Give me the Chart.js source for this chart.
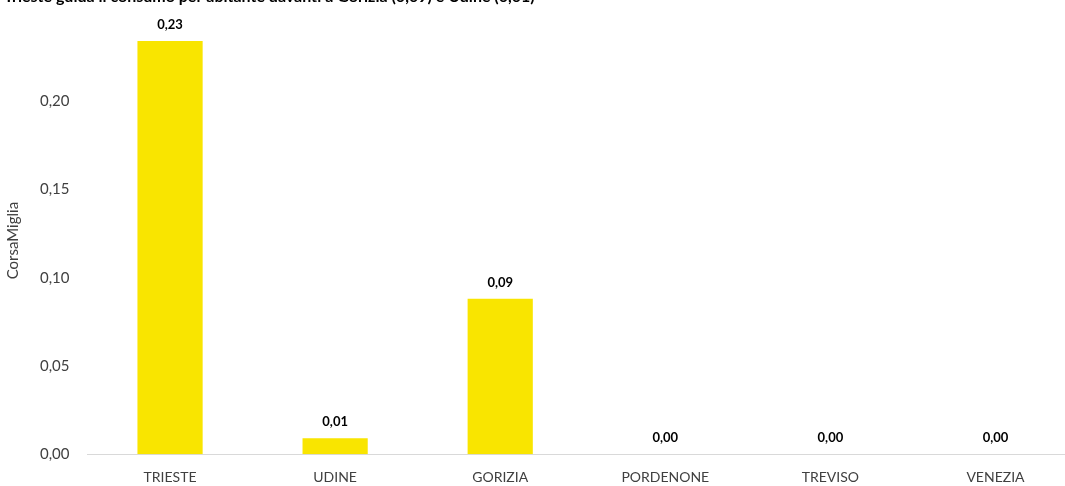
<!DOCTYPE html>
<html>
<head>
<meta charset="utf-8">
<script src="https://cdn.jsdelivr.net/npm/chart.js@4.4.1/dist/chart.umd.min.js"></script>
<style>
  html, body { margin: 0; padding: 0; background: #fff; overflow: hidden; }
  #wrap { position: relative; width: 1078px; height: 501px; }
</style>
</head>
<body>
<div id="wrap"><canvas id="chartCorsa"></canvas></div>
<script>
const categorie = ["TRIESTE", "UDINE", "GORIZIA", "PORDENONE", "TREVISO", "VENEZIA"];
const valori = [0.234, 0.009, 0.088, 0, 0, 0];
const etichette = ["0,23", "0,01", "0,09", "0,00", "0,00", "0,00"];
const titolo = "Trieste guida il consumo per abitante davanti a Gorizia (0,09) e Udine (0,01)";

const fmt = (v) => v.toFixed(2).replace(".", ",");

// titolo tagliato in alto, come nell'immagine
const titoloPlugin = {
  id: "titoloTagliato",
  afterDraw(chart) {
    const c = chart.ctx;
    c.save();
    c.font = "bold 16px Lato, 'Open Sans', sans-serif";
    c.fillStyle = "#000";
    c.textAlign = "left";
    c.textBaseline = "alphabetic";
    c.fillText(titolo, 4, 2);
    c.restore();
  },
};

// etichette dei valori sopra le barre
const etichettePlugin = {
  id: "etichetteValori",
  afterDatasetsDraw(chart) {
    const c = chart.ctx;
    const meta = chart.getDatasetMeta(0);
    c.save();
    c.font = "bold 13px Lato, 'Open Sans', sans-serif";
    c.fillStyle = "#000";
    c.textAlign = "center";
    c.textBaseline = "bottom";
    meta.data.forEach(function (bar, i) {
      c.fillText(etichette[i], bar.x, bar.y - 10);
    });
    c.restore();
  },
};

const ctx = document.getElementById("chartCorsa").getContext("2d");
const chartCorsa = new Chart(ctx, {
  type: "bar",
  data: {
    labels: categorie,
    datasets: [
      {
        label: "CorsaMiglia",
        data: valori,
        backgroundColor: "#f9e500",
        barPercentage: 0.395,
        categoryPercentage: 1,
      },
    ],
  },
  options: {
    responsive: true,
    maintainAspectRatio: false,
    animation: false,
    layout: { padding: { top: 0, right: 0, left: 4, bottom: 0 } },
    plugins: {
      legend: { display: false },
      tooltip: { enabled: false },
    },
    scales: {
      x: {
        grid: { display: false, drawTicks: false },
        border: { display: true, color: "#d9d9d9", width: 1 },
        ticks: {
          color: "#404040",
          font: { family: "Lato, 'Open Sans', sans-serif", size: 14 },
          padding: 15,
          maxRotation: 0,
        },
      },
      y: {
        min: 0,
        max: 0.242,
        grid: { display: false, drawTicks: false },
        border: { display: false },
        ticks: {
          stepSize: 0.05,
          color: "#404040",
          padding: 18,
          font: { family: "Lato, 'Open Sans', sans-serif", size: 15 },
          callback: function (v) {
            return v > 0.2 ? "" : fmt(v);
          },
        },
        title: {
          display: true,
          text: "CorsaMiglia",
          color: "#404040",
          font: { family: "Lato, 'Open Sans', sans-serif", size: 15 },
          padding: { top: 0, bottom: 0 },
        },
      },
    },
  },
  plugins: [titoloPlugin, etichettePlugin],
});
</script>
</body>
</html>
